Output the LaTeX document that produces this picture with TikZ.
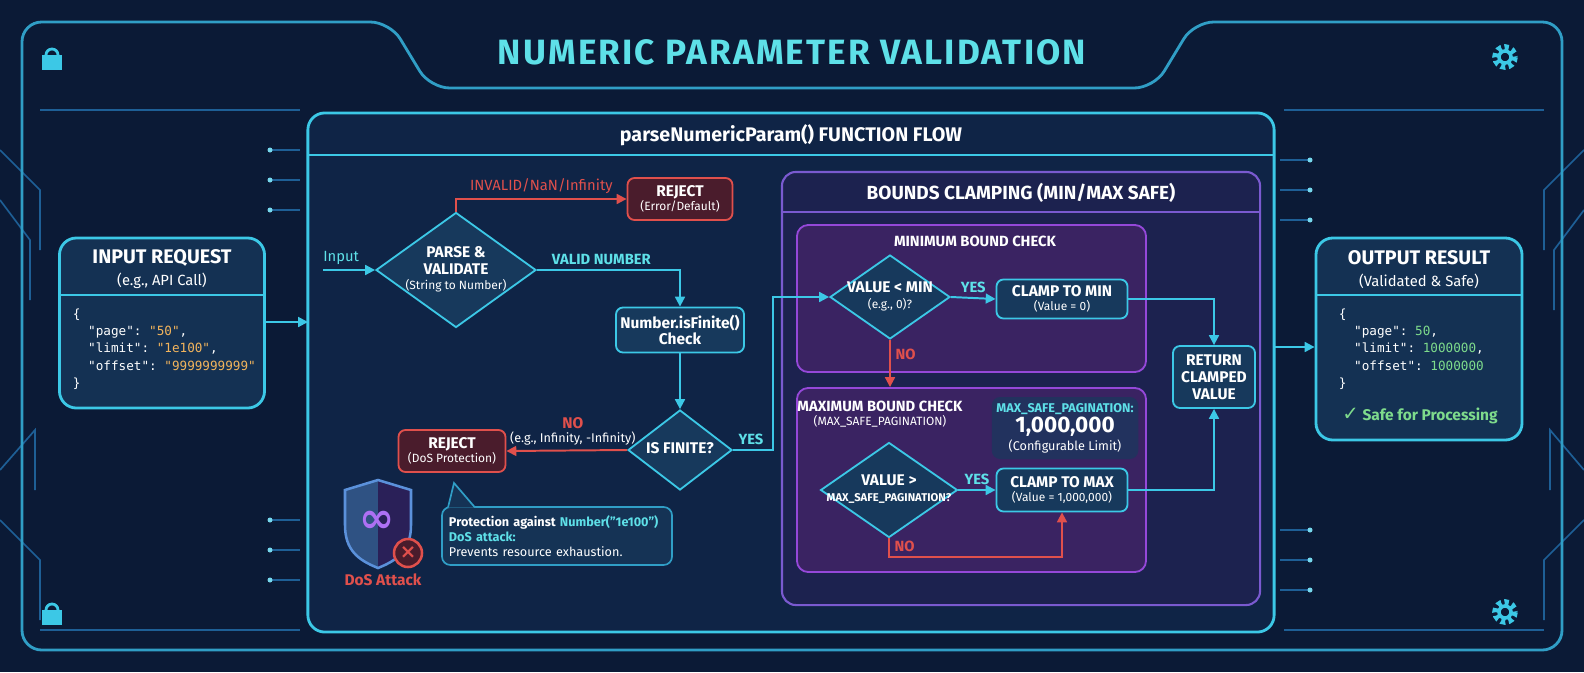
\documentclass[tikz,border=0pt]{standalone}
\usepackage{fontspec}
\setmainfont{Fira Sans}
\setmonofont{DejaVu Sans Mono}
\newfontfamily\symfont{DejaVu Sans}
\usetikzlibrary{shapes.geometric,arrows.meta,positioning}
\definecolor{bgnavy}{HTML}{0B1A36}
\definecolor{panelfill}{HTML}{0F2446}
\definecolor{cyanline}{HTML}{3CC8E6}
\definecolor{cyantext}{HTML}{5EE0E8}
\definecolor{boxfill}{HTML}{17395C}
\definecolor{redline}{HTML}{E0504C}
\definecolor{redfill}{HTML}{4A1C2C}
\definecolor{purpleline}{HTML}{7A5AD0}
\definecolor{purplefill}{HTML}{2A2058}
\definecolor{subpfill}{HTML}{3A2362}
\definecolor{tracecol}{HTML}{1E5F96}
\definecolor{codeorange}{HTML}{F2B45C}
\definecolor{codegreen}{HTML}{7EDB8C}
\newcommand{\dtext}[1]{\makebox[0pt]{\begin{tabular}{@{}c@{}}#1\end{tabular}}}
\newcommand{\subtxt}{\fontsize{8.5}{9.5}\selectfont\mdseries}
\tikzset{
  flow/.style={-{Triangle[width=7pt,length=7pt]}, cyanline, line width=1.4pt},
  noflow/.style={-{Triangle[width=7pt,length=7pt]}, redline, line width=1.4pt},
  stepbox/.style={draw=cyanline, fill=boxfill, rounded corners=5pt, line width=1.3pt,
    text=white, align=center, font=\bfseries\fontsize{11}{12}\selectfont, inner sep=2pt},
  reject/.style={stepbox, draw=redline, fill=redfill},
  decision/.style={diamond, draw=cyanline, fill=boxfill, line width=1.3pt, text=white,
    inner sep=0pt, font=\bfseries\fontsize{11}{12}\selectfont},
  card/.style={draw=cyanline, fill=panelfill, rounded corners=12pt, line width=2pt},
  lbl/.style={font=\bfseries\fontsize{10.5}{11}\selectfont},
  trace/.style={tracecol, line width=1.2pt},
}
\begin{document}
\begin{tikzpicture}[x=0.025cm, y=-0.025cm]
% background and frame
\fill[bgnavy] (0,0) rectangle (1584,672);
\useasboundingbox (0,0) rectangle (1584,672);
\foreach \a/\b/\c/\d in {0/150/40/190, 0/200/30/240, 0/470/35/430, 0/520/40/560,
  1584/150/1544/190, 1584/470/1550/430, 1584/520/1544/560, 1584/210/1554/250}
  \draw[trace] (\a,\b) -- (\c,\d) -- (\c,\d+60);
\foreach \yy in {150,180,210,520,550,580} {
  \draw[trace] (270,\yy) -- (300,\yy);
  \draw[trace] (1280,\yy+10) -- (1310,\yy+10);
  \fill[cyanline!70] (270,\yy) circle (2.5);
  \fill[cyanline!70] (1310,\yy+10) circle (2.5);
}
\draw[cyanline!60!tracecol, line width=2pt, rounded corners=14pt]
  (22,22) -- (390,22) -- (430,88) -- (1154,88) -- (1194,22) -- (1562,22)
  -- (1562,650) -- (22,650) -- cycle;
\draw[tracecol, line width=1pt] (40,110) -- (300,110) (1284,110) -- (1544,110)
  (40,630) -- (300,630) (1284,630) -- (1544,630);
\node[text=cyantext, font=\bfseries\fontsize{25}{27}\selectfont\addfontfeature{LetterSpace=6}] (title) at (792,52) {NUMERIC PARAMETER VALIDATION};
% corner icons
\foreach \lx/\ly in {52/57,52/612} {
  \draw[cyanline, line width=2pt] (\lx-6,\ly-2) arc (180:360:6);
  \fill[cyanline] (\lx-10,\ly-2) rectangle (\lx+10,\ly+13);
}
\foreach \gx/\gy in {1505/57,1505/612} {
  \draw[cyanline, line width=4pt, dash pattern=on 3pt off 2.5pt] (\gx,\gy) circle (10);
  \draw[cyanline, line width=2.5pt] (\gx,\gy) circle (6);
}

% main panel
\node[card, minimum width=24.15cm, minimum height=12.975cm] (main) at (791,372.5) {};
\draw[cyanline, line width=1.2pt] (309,155) -- (1273,155);
\node[text=white, font=\bfseries\fontsize{14}{15}\selectfont] (mainhead) at (791,135) {parseNumericParam() FUNCTION FLOW};

% input and output cards
\node[card, fill=boxfill!60!panelfill, minimum width=5.125cm, minimum height=4.25cm] (input) at (162,323) {};
\draw[cyanline, line width=1.2pt] (61,295) -- (264,295);
\node[text=white, font=\bfseries\fontsize{14}{15}\selectfont] (intitle) at (162,258) {INPUT REQUEST};
\node[text=white, font=\fontsize{10.5}{11}\selectfont] (insub) at (162,281) {(e.g., API Call)};
\node[anchor=north west, text=white, align=left, font=\ttfamily\fontsize{9}{12.2}\selectfont] (incode) at (68,304)
  {\{\\ \ \ "page": \textcolor{codeorange}{"50"},\\ \ \ "limit": \textcolor{codeorange}{"1e100"},\\ \ \ "offset": \textcolor{codeorange}{"9999999999"}\\\}};

\node[card, fill=boxfill!60!panelfill, minimum width=5.15cm, minimum height=5.05cm] (output) at (1419,339) {};
\draw[cyanline, line width=1.2pt] (1317,295) -- (1521,295);
\node[text=white, font=\bfseries\fontsize{14}{15}\selectfont] (outtitle) at (1419,258) {OUTPUT RESULT};
\node[text=white, font=\fontsize{10.5}{11}\selectfont] (outsub) at (1419,281) {(Validated \& Safe)};
\node[anchor=north west, text=white, align=left, font=\ttfamily\fontsize{9}{12.2}\selectfont] (outcode) at (1334,304)
  {\{\\ \ \ "page": \textcolor{codegreen}{50},\\ \ \ "limit": \textcolor{codegreen}{1000000},\\ \ \ "offset": \textcolor{codegreen}{1000000}\\\}};
\node[text=codegreen, font=\bfseries\fontsize{11}{12}\selectfont] (safe) at (1420,416) {{\symfont\fontsize{14}{14}\selectfont ✓}\ Safe for Processing};

\coordinate (mainin) at (308,322);
\coordinate (mainout) at (1274,347);
\draw[flow] (input.east |- mainin) -- (mainin);
\draw[flow] (mainout) -- (output.west |- mainout);

% validation flow
\coordinate (instart) at (323,270);
\node[decision, minimum width=4cm, minimum height=2.875cm] (parse) at (456,270)
  {\dtext{PARSE \&\\VALIDATE\\[-1pt]{\subtxt (String to Number)}}};
\draw[flow] (instart) -- node[above, text=cyantext, font=\fontsize{10.5}{11}\selectfont, pos=0.35] {Input} (parse.west);
\node[reject, minimum width=2.625cm, minimum height=1.05cm] (rej1) at (680,199) {REJECT\\[-2pt]{\subtxt (Error/Default)}};
\draw[noflow] (parse.north) -- (parse.north |- rej1.west) -- node[above, text=redline, font=\fontsize{10.5}{11}\selectfont] {INVALID/NaN/Infinity} (rej1.west);
\node[stepbox, minimum width=3.2cm, minimum height=1.125cm] (finchk) at (680,330) {Number.isFinite()\\Check};
\draw[flow] (parse.east) -- node[above, text=cyantext, lbl, pos=0.45] {VALID NUMBER} (parse.east -| finchk.north) -- (finchk.north);
\node[decision, minimum width=2.6cm, minimum height=2cm] (isfin) at (680,450) {\dtext{IS FINITE?}};
\draw[flow] (finchk.south) -- (isfin.north);
\node[reject, minimum width=2.675cm, minimum height=1.05cm] (rej2) at (452,451) {REJECT\\[-2pt]{\subtxt (DoS Protection)}};
\draw[noflow] (isfin.west) -- node[above, text=white, align=center, font=\fontsize{9}{10}\selectfont, pos=0.45]
  {{\color{redline}\bfseries\fontsize{11}{12}\selectfont NO}\\(e.g., Infinity, -Infinity)} (rej2.east);

% DoS shield and callout
\coordinate (shield) at (378,480);
\fill[purplefill!70!cyanline] (shield) -- ++(33,10) -- ++(0,35) .. controls +(0,25) and +(20,-8) .. (378,568)
  .. controls +(-20,-8) and +(0,25) .. (345,525) -- ++(0,-35) -- cycle;
\fill[purplefill] (shield) -- ++(33,10) -- ++(0,35) .. controls +(0,25) and +(20,-8) .. (378,568) -- cycle;
\draw[cyanline!50!purpleline, line width=1.8pt] (shield) -- ++(33,10) -- ++(0,35) .. controls +(0,25) and +(20,-8) .. (378,568)
  .. controls +(-20,-8) and +(0,25) .. (345,525) -- ++(0,-35) -- cycle;
\node[text=cyantext!50!magenta, font=\symfont\bfseries\fontsize{30}{30}\selectfont] (infty) at (377,522) {∞};
\node[circle, draw=redline, fill=redfill, line width=1.8pt, minimum size=0.7cm, inner sep=0pt,
  text=redline, font=\symfont\bfseries\fontsize{14}{14}\selectfont] (xmark) at (408,553) {×};
\node[text=redline, font=\bfseries\fontsize{11}{12}\selectfont] (dos) at (383,580) {DoS Attack};
\node[draw=cyanline!60!tracecol, fill=boxfill!70!panelfill, rounded corners=6pt, line width=1.2pt,
  minimum width=5.75cm, minimum height=1.45cm, text width=5.4cm, align=left, text=white,
  font=\fontsize{9}{10.5}\selectfont] (callout) at (557,536)
  {\textbf{Protection against \textcolor{cyantext}{Number("1e100")}}\\\textbf{\textcolor{cyantext}{DoS attack:}}\\Prevents resource exhaustion.};
\fill[boxfill!70!panelfill] (448,507.7) -- (454,483) -- (475,507.7) -- cycle;
\draw[cyanline!60!tracecol, line width=1.2pt] (448,507.5) -- (454,483) -- (475,507.5);

% bounds clamping
\node[draw=purpleline, fill=purplefill!50!panelfill, rounded corners=10pt, line width=1.5pt,
  minimum width=11.95cm, minimum height=10.825cm] (bounds) at (1021,388.5) {};
\draw[purpleline, line width=1.2pt] (783,212) -- (1259,212);
\node[text=white, font=\bfseries\fontsize{13.5}{14}\selectfont] (boundshead) at (1021,193) {BOUNDS CLAMPING (MIN/MAX SAFE)};
\node[draw=purpleline!80!magenta, fill=subpfill, rounded corners=8pt, line width=1.3pt,
  minimum width=8.725cm, minimum height=3.675cm] (minbox) at (971.5,298.5) {};
\node[text=white, font=\bfseries\fontsize{10.5}{11}\selectfont] (mintitle) at (975,241) {MINIMUM BOUND CHECK};
\node[draw=purpleline!80!magenta, fill=subpfill, rounded corners=8pt, line width=1.3pt,
  minimum width=8.725cm, minimum height=4.6cm] (maxbox) at (971.5,480) {};
\node[text=white, align=center, font=\bfseries\fontsize{10.5}{11}\selectfont] (maxtitle) at (880,414)
  {MAXIMUM BOUND CHECK\\[-1pt]{\subtxt (MAX\_SAFE\_PAGINATION)}};
\node[fill=boxfill!70!subpfill, rounded corners=6pt, minimum width=3.65cm, minimum height=1.55cm,
  align=center, text=white, font=\fontsize{9}{10}\selectfont] (limit) at (1065,428)
  {\textcolor{cyantext}{\bfseries MAX\_SAFE\_PAGINATION:}\\[1pt]{\bfseries\fontsize{16}{16}\selectfont 1,000,000}\\[1pt](Configurable Limit)};

\node[decision, minimum width=3cm, minimum height=2.1cm] (ltmin) at (890,297)
  {\dtext{VALUE < MIN\\[-1pt]{\subtxt (e.g., 0)?}}};
\coordinate (yesturn) at (773,450);
\draw[flow] (isfin.east) -- node[above, text=cyantext, lbl, pos=0.45] {YES} (yesturn) |- (ltmin.west);
\node[stepbox, minimum width=3.275cm, minimum height=0.975cm] (cmin) at (1062,299) {CLAMP TO MIN\\[-2pt]{\subtxt (Value = 0)}};
\draw[flow] (ltmin.east) -- node[above, text=cyantext, lbl] {YES} (cmin.west);
\node[decision, minimum width=3.42cm, minimum height=2.375cm] (gtmax) at (889,490)
  {\dtext{VALUE >\\[-1pt]{\fontsize{8}{9}\selectfont MAX\_SAFE\_PAGINATION?}}};
\draw[noflow] (ltmin.south) -- node[right, text=redline, lbl, pos=0.3] {NO} (ltmin.south |- maxbox.north);
\node[stepbox, minimum width=3.275cm, minimum height=1.075cm] (cmax) at (1062,490) {CLAMP TO MAX\\[-2pt]{\subtxt (Value = 1,000,000)}};
\draw[flow] (gtmax.east) -- node[above, text=cyantext, lbl] {YES} (cmax.west);
\coordinate (noturn) at (889,557);
\draw[noflow] (gtmax.south) -- node[right, text=redline, lbl, pos=0.45] {NO} (noturn) -| (cmax.south);
\node[stepbox, minimum width=2.05cm, minimum height=1.55cm] (ret) at (1214,377) {RETURN\\CLAMPED\\VALUE};
\draw[flow] (cmin.east) -| (ret.north);
\draw[flow] (cmax.east) -| (ret.south);
\end{tikzpicture}
\end{document}
